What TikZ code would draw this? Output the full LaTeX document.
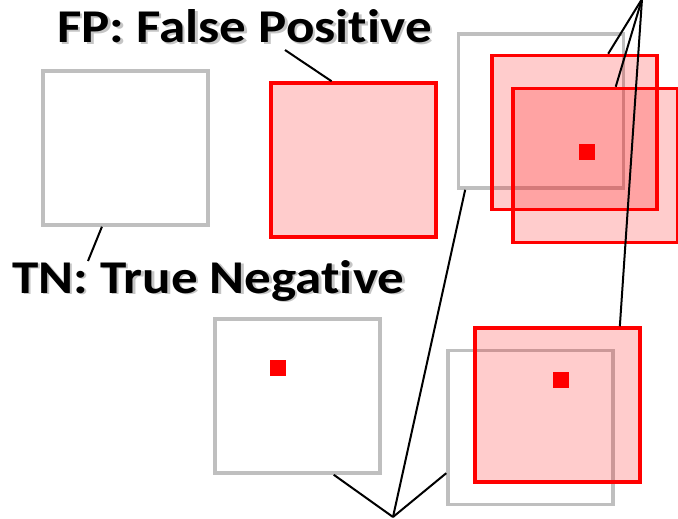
\documentclass[tikz,border=0pt]{standalone}
\usepackage{graphicx}
\usepackage{fontspec}
\setmainfont{Carlito}[Ligatures=NoCommon]
\usetikzlibrary{calc}
\newcommand{\widelbl}[1]{\scalebox{1.13}[1]{#1}}
\begin{document}
\begin{tikzpicture}[x=1pt,y=-1pt,
  graybox/.style={draw=gray!50,line width=3.5pt,minimum width=165pt,minimum height=154pt,inner sep=0pt,rectangle},
  redbox/.style={draw=red,fill=red,fill opacity=0.2,draw opacity=1,line width=3.5pt,minimum width=165pt,minimum height=154pt,inner sep=0pt,rectangle},
  dot/.style={fill=red,minimum width=16pt,minimum height=16pt,inner sep=0pt,rectangle},
  lbl/.style={font=\fontsize{47}{50}\selectfont\bfseries,inner sep=0pt,anchor=base west},
  shadowlbl/.style={lbl,text=black!45,opacity=0.5},
  conn/.style={draw=black,line width=2pt}]
\useasboundingbox (0,0) rectangle (678,519);
% left column
\node[graybox] (tn) at (125.5,148) {};
\node[redbox] (fp) at (353.5,160) {};
% top-right group
\node[graybox] (tg) at (541,111) {};
\node[redbox] (r1) at (574.5,132.5) {};
\node[redbox] (r2) at (595.5,165.5) {};
\node[dot] (d1) at (587,151.5) {};
% bottom group
\node[graybox] (bl) at (297.5,396) {};
\node[dot] (d2) at (277.5,367.5) {};
\node[graybox] (g2) at (530.5,427.5) {};
\node[redbox] (br) at (557.5,405) {};
\node[dot] (d3) at (560.5,380) {};
% labels
\node[shadowlbl] at (59.5,44.5) {\widelbl{FP: False Positive}};
\node[lbl] (fplab) at (57,43) {\widelbl{FP: False Positive}};
\node[shadowlbl] at (14.5,294.5) {\widelbl{TN: True Negative}};
\node[lbl] (tnlab) at (12,293) {\widelbl{TN: True Negative}};
% connector ends
\coordinate (fpend) at (285,50);
\coordinate (tnend) at (88,261);
\coordinate (topapex) at (642,-1);
\coordinate (botapex) at (393,517);
% connectors
\draw[conn] (fpend) -- ($(fp.north west)!0.37!(fp.north east)$);
\draw[conn] ($(tn.south west)!0.36!(tn.south east)$) -- (tnend);
\draw[conn] (topapex) -- ($(r1.north west)!0.70!(r1.north east)$);
\draw[conn] (topapex) -- ($(r2.north west)!0.62!(r2.north east)$);
\draw[conn] (topapex) -- ($(br.north west)!0.87!(br.north east)$);
\draw[conn] (botapex) -- ($(bl.south west)!0.715!(bl.south east)$);
\draw[conn] (botapex) -- ($(g2.north west)!0.79!(g2.south west)$);
\draw[conn] (botapex) -- ($(tg.south west)!0.05!(tg.south east)$);
\end{tikzpicture}
\end{document}
